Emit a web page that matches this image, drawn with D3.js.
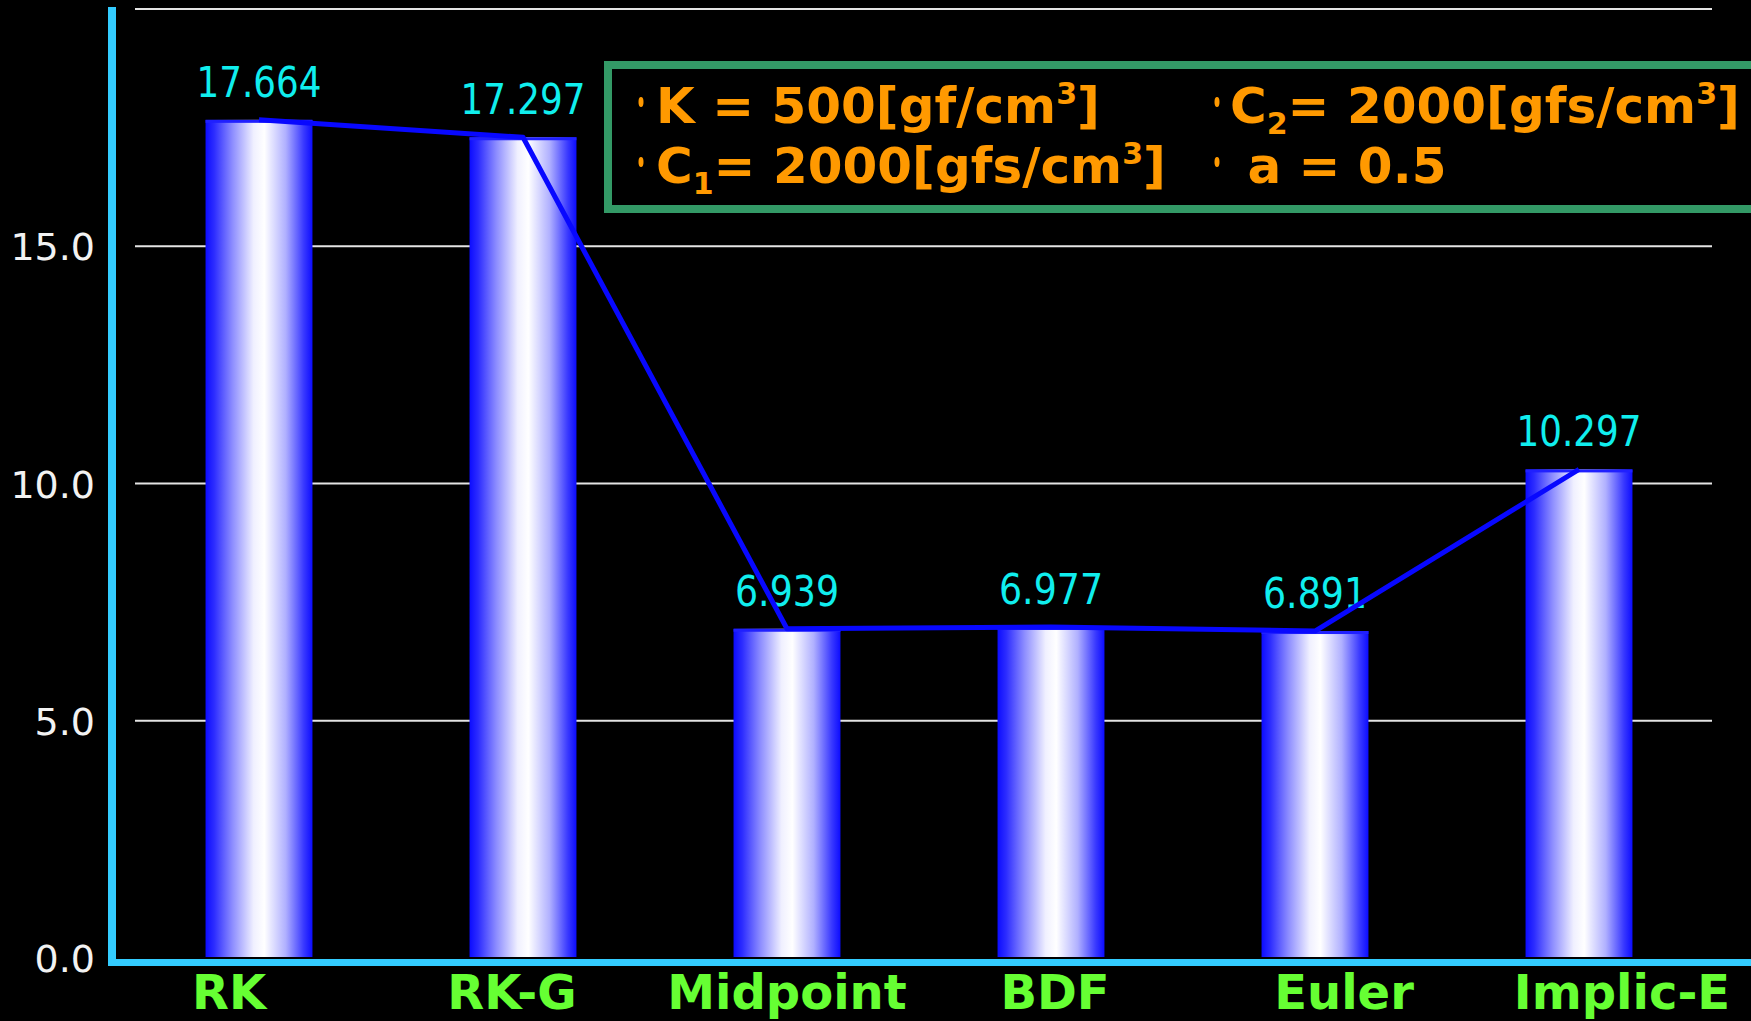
<!DOCTYPE html>
<html lang="en">
<head>
  <meta charset="UTF-8">
  <title>solver comparison</title>
  <script src="https://d3js.org/d3.v7.min.js"></script>
  <style>
    html, body { margin: 0; padding: 0; background: #000; }
    svg { display: block; background: #000; }
    .ytick { font: 38px "DejaVu Sans"; fill: #f2f2f2; }
    .val { font: 42px "DejaVu Sans"; fill: #10eeee; }
    .cat { font: bold 48px "DejaVu Sans"; fill: #66ff33; }
    .legend { font: bold 50px "DejaVu Sans"; fill: #ff9900; white-space: pre; }
  </style>
</head>
<body>
  <svg width="1751" height="1021"></svg>
  <script>
    // data
    var methods = ["RK", "RK-G", "Midpoint", "BDF", "Euler", "Implic-E"];
    var times = [17.664, 17.297, 6.939, 6.977, 6.891, 10.297];
    var yTicks = [0, 5, 10, 15];
    var gridVals = [5, 10, 15, 20];

    // legend lines: [text, "sub"/"sup"/""] pieces
    var legendRows = [
      [[["K = 500[gf/cm", ""], ["3", "sup"], ["]", ""]],
       [["C", ""], ["2", "sub"], ["= 2000[gfs/cm", ""], ["3", "sup"], ["]", ""]]],
      [[["C", ""], ["1", "sub"], ["= 2000[gfs/cm", ""], ["3", "sup"], ["]", ""]],
       [[" a = 0.5", ""]]]
    ];

    // category labels in the original sit a bit off-centre
    var labelNudge = {"RK": -30, "RK-G": -11, "Midpoint": 0, "BDF": 4, "Euler": 29, "Implic-E": 43};

    var svg = d3.select("svg");

    var x = d3.scaleBand().domain(methods).range([127, 1711])
        .paddingInner(0.595).paddingOuter(0.2975);
    var y = d3.scaleLinear().domain([0, 20]).range([958, 9]);

    // gradient for the cylinders
    var grad = svg.append("defs").append("linearGradient")
        .attr("id", "barGrad").attr("x1", 0).attr("x2", 1).attr("y1", 0).attr("y2", 0);
    [[0, "#0c0cff"], [0.08, "#2c2cff"], [0.25, "#8c8cff"], [0.45, "#f0f0ff"],
     [0.55, "#ffffff"], [0.75, "#b0b0ff"], [0.92, "#3838ff"], [1, "#0c0cff"]].forEach(function(s) {
      grad.append("stop").attr("offset", s[0]).attr("stop-color", s[1]);
    });

    // gridlines
    svg.selectAll(".grid").data(gridVals).enter().append("line")
        .attr("class", "grid")
        .attr("x1", 135).attr("x2", 1712)
        .attr("y1", function(d) { return y(d); })
        .attr("y2", function(d) { return y(d); })
        .attr("stroke", "#e4e4e4").attr("stroke-width", 2);

    // y tick labels via axis
    var yAxis = svg.append("g")
        .attr("transform", "translate(95,0)")
        .call(d3.axisLeft(y).tickValues(yTicks).tickFormat(d3.format(".1f")).tickSize(0).tickPadding(0));
    yAxis.select(".domain").remove();
    yAxis.selectAll("text").attr("class", "ytick").attr("fill", null)
        .attr("dy", "0.36em");
    yAxis.attr("font-size", null).attr("font-family", null);

    // bars
    svg.selectAll(".bar").data(methods).enter().append("rect")
        .attr("class", "bar")
        .attr("x", function(d) { return x(d); })
        .attr("width", x.bandwidth())
        .attr("y", function(d, i) { return y(times[i]); })
        .attr("height", function(d, i) { return y(0) - y(times[i]) - 1; })
        .attr("fill", "url(#barGrad)");

    svg.selectAll(".bartop").data(methods).enter().append("rect")
        .attr("x", function(d) { return x(d); })
        .attr("width", x.bandwidth())
        .attr("y", function(d, i) { return y(times[i]); })
        .attr("height", 3)
        .attr("fill", "#2020ff");

    // value labels
    svg.selectAll(".val").data(methods).enter().append("text")
        .attr("class", "val")
        .attr("x", function(d) { return x(d) + x.bandwidth() / 2; })
        .attr("y", function(d, i) { return y(times[i]) - 23; })
        .attr("text-anchor", "middle")
        .attr("textLength", function(d, i) { return times[i].toFixed(3).length * 20.8; })
        .attr("lengthAdjust", "spacingAndGlyphs")
        .text(function(d, i) { return times[i].toFixed(3); });

    // connecting line
    var line = d3.line()
        .x(function(d) { return x(d) + x.bandwidth() / 2; })
        .y(function(d, i) { return y(times[i]); });
    svg.append("path")
        .datum(methods)
        .attr("d", line)
        .attr("fill", "none")
        .attr("stroke", "#0808ff")
        .attr("stroke-width", 5)
        .attr("stroke-linejoin", "round");

    // axes lines
    svg.append("rect").attr("x", 108).attr("y", 7).attr("width", 8).attr("height", 959)
        .attr("fill", "#33ccff");
    svg.append("rect").attr("x", 108).attr("y", 959).attr("width", 1643).attr("height", 7)
        .attr("fill", "#33ccff");

    // category labels
    svg.selectAll(".cat").data(methods).enter().append("text")
        .attr("class", "cat")
        .attr("x", function(d) { return x(d) + x.bandwidth() / 2 + labelNudge[d]; })
        .attr("y", 1009)
        .attr("text-anchor", "middle")
        .text(function(d) { return d; });

    // legend box
    svg.append("rect")
        .attr("x", 608).attr("y", 65).attr("width", 1200).attr("height", 144)
        .attr("fill", "none").attr("stroke", "#339966").attr("stroke-width", 8);

    var colX = [656, 1230], bulletX = [641, 1217], rowY = [123, 183];
    legendRows.forEach(function(row, r) {
      row.forEach(function(parts, c) {
        svg.append("ellipse")
            .attr("cx", bulletX[c]).attr("cy", rowY[r] - 21)
            .attr("rx", 2.5).attr("ry", 5)
            .attr("fill", "#ff9900");
        var t = svg.append("text").attr("class", "legend")
            .attr("x", colX[c]).attr("y", rowY[r]);
        var shift = 0;
        parts.forEach(function(p) {
          var target = p[1] === "sub" ? 11 : p[1] === "sup" ? -19 : 0;
          var ts = t.append("tspan")
              .attr("dy", target - shift)
              .text(p[0]);
          if (p[1]) ts.style("font-size", "30px");
          shift = target;
        });
      });
    });
  </script>
</body>
</html>
